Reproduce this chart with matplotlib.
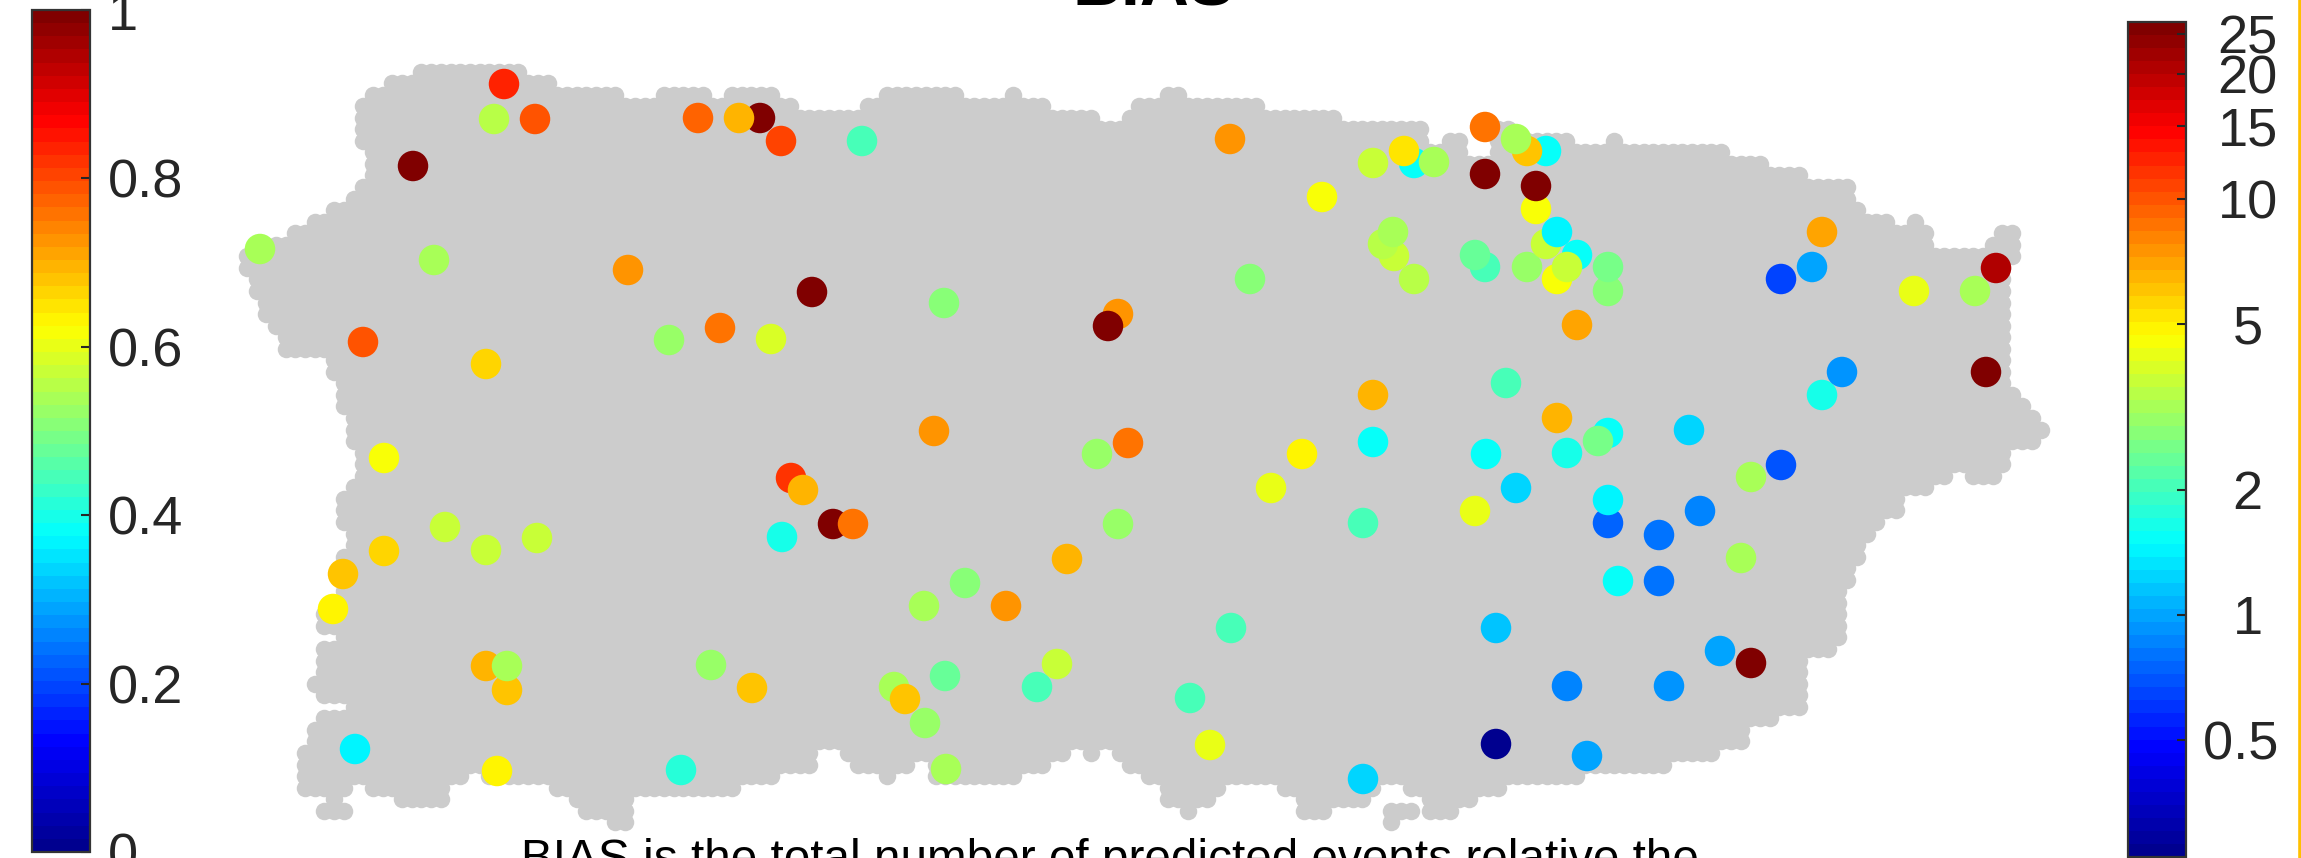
import numpy as np
import matplotlib
matplotlib.use("Agg")
import matplotlib.pyplot as plt
from matplotlib.colors import Normalize, LogNorm, LinearSegmentedColormap
from matplotlib.cm import ScalarMappable
from matplotlib.ticker import NullLocator

plt.rcParams['font.family'] = ['Liberation Sans', 'DejaVu Sans']

W, H = 2301, 858
TITLE = "BIAS"
NOTE = "BIAS is the total number of predicted events relative the"

# Stations, in picture-based map units, in drawing order
station_x = [760,504,494,535,413,260,434,628,363,486,669,720,771,698,739,781,
  862,1230,1373,1414,1404,1434,1485,1546,1527,1516,1485,1536,1536,1322,1394,1383,1393,1414,
  1485,1475,1527,1577,1546,1557,1557,1567,1577,1250,944,1118,1108,812,1506,1373,934,1557,
  1097,1128,1302,1271,1373,1486,1567,1608,1598,1516,1475,1363,1118,1067,965,924,1006,1231,1496,1567,
  1057,1037,945,894,905,925,1190,1210,1496,1587,1363,946,833,853,791,803,782,
  384,445,486,537,384,343,333,486,507,507,711,752,355,497,681,
  1822,1812,1781,1914,1975,1996,1822,1842,1986,1689,1608,1608,
  1781,1751,1700,1659,1608,1608,1741,1618,1659,1720,1751,1669]
station_y = [118,84,119,119,166,249,260,270,342,364,340,328,339,118,118,141,
  141,139,163,163,151,162,174,151,151,139,127,209,186,197,256,244,232,279,
  267,255,267,255,244,232,279,267,325,279,303,314,326,292,383,395,431,418,
  454,443,454,488,442,454,453,433,441,488,511,523,524,559,583,606,606,628,628,686,
  664,687,676,687,699,723,698,745,744,756,779,769,524,524,478,490,537,
  458,527,550,538,551,574,609,666,690,666,665,688,749,771,770,
  232,267,279,291,291,268,395,372,372,430,291,267,
  465,477,511,535,523,500,558,581,581,651,663,686]
station_bias = [1,.84,.547,.787,1,.535,.535,.734,.79,.66,.516,.757,.579,.773,.691,.797,
  .4375,.734,.577,.375,.648,.54,1,.39,.687,.532,.75,.61,1,.61,.57,.555,.532,.559,
  .445,.469,.516,.375,.575,.36,.61,.575,.718,.5,.505,.734,1,1,.4375,.703,.734,.703,
  .516,.75,.64,.595,.375,.375,.406,.38,.485,.34,.595,.4375,.528,.691,.5125,.54,.734,.453,.321,.25,
  .575,.4375,.477,.532,.679,.528,.45,.595,0,.282,.337,.544,1,.75,.82,.699,.406,
  .61,.575,.575,.575,.663,.679,.64,.695,.679,.54,.516,.687,.36,.64,.41,
  .718,.282,.1875,.595,.532,.9375,.406,.266,1,.337,.5,.485,
  .2035,.54,.25,.2425,.219,.36,.532,.39,.2425,.29,1,.266]

top_x = [0,365,385,413,523,553,620,653,707,722,776,800,855,882,967,1007,1024,1053,1101,1122,1133,
         1161,1188,1264,1341,1428,1440,1466,1486,1512,1570,1603,1620,1727,1765,1803,1859,1870,1890,
         1902,1920,1929,1938,1980,1998,2009,2025]
top_y = [0,86,75,63,75,86,98,86,98,86,98,109,98,86,98,86,98,109,121,109,98,
         86,98,109,121,144,132,156,121,132,144,132,144,156,167,178,200,213,225,
         213,225,237,248,237,225,213,0]
bottom_x = [0,316,352,365,393,449,467,480,546,565,577,605,632,737,776,815,836,845,874,900,918,931,
            1024,1053,1070,1085,1101,1112,1123,1142,1162,1180,1198,1216,1229,1277,1295,1333,1371,1380,
            1402,1420,1456,1476,1507,1583,1669,1717,1746,1774,1803,1832,1844,1853,1861,1873,1886,1900,
            1912,1937,1949,1969,2006,2016,2043]
bottom_y = [796,796,783,796,807,783,772,783,796,807,818,830,796,783,772,748,760,772,783,772,760,783,
            772,760,748,760,748,760,772,783,807,818,807,796,783,796,818,807,796,783,
            796,818,807,796,783,772,761,749,726,713,657,646,588,566,543,531,519,497,
            496,485,473,485,473,450,438]
left_y = [0,97,150,178,190,202,213,226,237,252,277,300,323,333,357,380,417,450,480,490,530,548,610,635,640,675,692,702,709,722,745]
left_x = [365,355,365,355,344,325,306,288,268,238,248,259,268,278,325,335,344,355,344,335,344,335,316,335,316,306,316,344,316,306,296]
right_y = [0,265,387,400,412,423,438,450,473,485]
right_x = [2025,2013,2025,2034,2043,2054,2043,2013,2006,2060]
# rows detached from the main body: row, left edge, right edge
offshore = [(63,326,344),(64,316,352),(64,1382,1418),(65,1382,1400)]

def band(breaks, values, q):
    return np.asarray(values)[np.clip(np.searchsorted(breaks, q, side='right') - 1, 0, len(values) - 1)]

R = 8.75
col_x = 246.8 + 9.7 * np.arange(186)
row_y = 71.5 + 11.55 * np.arange(66)
gx, gy = [], []
tol = 3.0
for y in row_y:
    for x in col_x:
        samples = np.array([x - 3.75, x, x + 3.75])
        ok = (x - R >= band(left_y, left_x, y) - tol) and (x + R <= band(right_y, right_x, y) + tol)
        ok = ok and np.all(band(top_x, top_y, samples) <= y - R + tol)
        ok = ok and np.all(band(bottom_x, bottom_y, samples) >= y + R - tol)
        if ok:
            gx.append(x); gy.append(y)
for row, a, b in offshore:
    for x in col_x:
        if a + R - tol <= x <= b - R + tol:
            gx.append(x); gy.append(row_y[row])

fig = plt.figure(figsize=(W / 100, H / 100), dpi=100, facecolor='white')
ax = fig.add_axes([0, 0, 1, 1])
ax.set_xlim(0, W); ax.set_ylim(H, 0); ax.axis('off')

px2 = lambda d: (d * 72 / 100) ** 2
cmap = LinearSegmentedColormap.from_list('jet64', [
    (0, (0, 0, .5625)), (1 / 8, (0, 0, 1)), (3 / 8, (0, 1, 1)),
    (5 / 8, (1, 1, 0)), (7 / 8, (1, 0, 0)), (1, (.5, 0, 0))], N=64)
ax.scatter(gx, gy, s=px2(2 * R), c='#cccccc', linewidths=0, zorder=1)
ax.scatter(station_x, station_y, s=px2(30.5), c=station_bias, cmap=cmap, vmin=0, vmax=1, linewidths=0, zorder=2)
ax.axvline(2299.6, color='#ffc000', lw=2.6, zorder=3)

FS = 39
INK = '#262626'
def box(x0, x1, y0, y1):
    return [x0 / W, 1 - y1 / H, (x1 - x0) / W, (y1 - y0) / H]

def style(cax, pad, ha):
    for s in cax.spines.values():
        s.set_linewidth(1.6); s.set_edgecolor('#333333')
    cax.yaxis.set_minor_locator(NullLocator())
    cax.tick_params(axis='y', direction='in', length=6.5, width=1.5, color=INK,
                    labelsize=FS, labelcolor=INK, pad=pad)
    for t in cax.get_yticklabels():
        t.set_ha(ha)

cl = fig.add_axes(box(32, 90, 10, 852))
cbl = fig.colorbar(ScalarMappable(Normalize(0, 1), cmap), cax=cl)
cbl.set_ticks([0, .2, .4, .6, .8, 1], labels=['0', '0.2', '0.4', '0.6', '0.8', '1'])
style(cl, 13, 'left')

cr = fig.add_axes(box(2128, 2186, 22, 857))
cbr = fig.colorbar(ScalarMappable(LogNorm(0.261, 26.7), cmap), cax=cr)
cbr.set_ticks([.5, 1, 2, 5, 10, 15, 20, 25], labels=['0.5 ', '1', '2', '5', '10', '15', '20', '25'])
style(cr, 44.5, 'center')

fig.text(1154 / W, 1 - 6 / H, TITLE, ha='center', va='baseline', fontsize=49, fontweight='bold', color='black')
fig.text(1110 / W, 1 - 838 / H, NOTE, ha='center', va='top', fontsize=34.4, color='black')

fig.savefig('out.png', dpi=100)
